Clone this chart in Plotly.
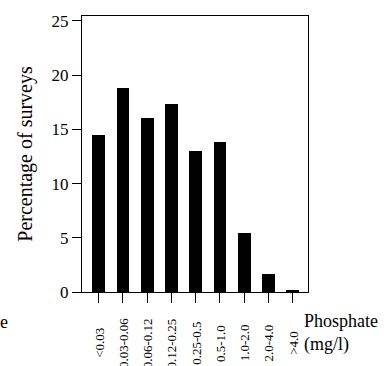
import plotly.graph_objects as go

categories = ["<0.03", "0.03-0.06", "0.06-0.12", "0.12-0.25", "0.25-0.5",
              "0.5-1.0", "1.0-2.0", "2.0-4.0", ">4.0"]
percentages = [14.5, 18.85, 16.0, 17.3, 13.0, 13.8, 5.4, 1.65, 0.2]
y_ticks = [0, 5, 10, 15, 20, 25]

FONT = "Liberation Serif"
xs = list(range(len(categories)))

fig = go.Figure()
fig.add_trace(go.Bar(x=xs, y=percentages, width=0.52,
                     marker=dict(color="black", line=dict(width=0))))

for i, lab in enumerate(categories):
    fig.add_annotation(x=i, xref="x", y=0, yref="y", yshift=-51,
                       text=lab, textangle=-90, showarrow=False,
                       xanchor="center", yanchor="middle",
                       font=dict(family=FONT, size=13, color="black"))

fig.add_annotation(x=1.0, xref="paper", xanchor="left", xshift=-6,
                   y=0, yref="y", yshift=-41, yanchor="middle",
                   text="Phosphate<br>(mg/l)", showarrow=False, align="left",
                   font=dict(family=FONT, size=18, color="black"))
fig.add_annotation(x=0, xref="paper", xanchor="left", xshift=-84,
                   y=0, yref="y", yshift=-30, yanchor="middle",
                   text="e", showarrow=False,
                   font=dict(family=FONT, size=18, color="black"))

fig.update_layout(
    width=385, height=366,
    margin=dict(l=82, r=77, t=12, b=74),
    paper_bgcolor="white", plot_bgcolor="white",
    showlegend=False, bargap=0,
    font=dict(family=FONT, color="black"),
)
fig.update_xaxes(range=[-0.69, 8.63], tickvals=xs, ticktext=[""] * len(xs),
                 ticks="outside", ticklen=10, tickcolor="black", tickwidth=1,
                 showline=True, linecolor="black", linewidth=1, mirror=True,
                 showgrid=False, zeroline=False)
fig.update_yaxes(range=[0, 25.45], tickvals=y_ticks,
                 ticks="outside", ticklen=9, tickcolor="black", tickwidth=1,
                 tickfont=dict(family=FONT, size=17, color="black"),
                 showline=True, linecolor="black", linewidth=1, mirror=True,
                 showgrid=False, zeroline=False,
                 title=dict(text="Percentage of surveys", standoff=13,
                            font=dict(family=FONT, size=20, color="black")))

fig.write_html("out.html")
